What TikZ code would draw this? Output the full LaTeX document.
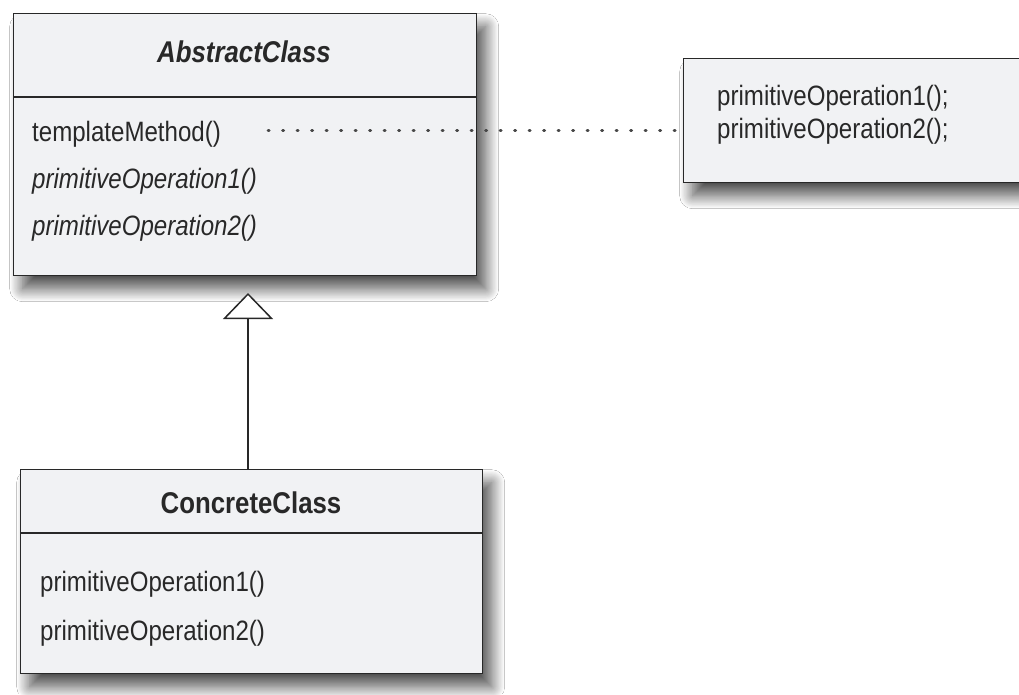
\documentclass[tikz,border=0pt]{standalone}
\usepackage{fontspec}
\setmainfont{Liberation Sans}[FakeStretch=0.86]
\usetikzlibrary{arrows.meta,shadows.blur}
\definecolor{boxfill}{RGB}{241,242,244}
\definecolor{ink}{RGB}{40,40,40}
\begin{document}
\begin{tikzpicture}[x=1pt,y=-1pt,
  classbox/.style={rectangle, draw=ink, line width=1.4pt, fill=boxfill, inner sep=0pt, anchor=north west,
    blur shadow={shadow xshift=9pt, shadow yshift=-13pt, shadow blur radius=13pt, shadow opacity=70, shadow blur steps=24, shadow blur extra rounding=0pt}},
  item/.style={anchor=base west, inner sep=0pt, text=ink, font=\fontsize{28}{30}\selectfont},
  ititem/.style={item, font=\fontsize{28}{30}\selectfont\itshape},
  classtitle/.style={anchor=base, inner sep=0pt, text=ink, font=\fontsize{30}{32}\selectfont\bfseries},
  divider/.style={draw=ink, line width=1.4pt},
  generalization/.style={draw=ink, line width=1.5pt, -{Triangle[open, fill=white, length=26pt, width=50pt]}},
  dotline/.style={draw=ink!85, line width=3pt, line cap=round, dash pattern=on 1.2pt off 13.3pt}
]
\clip (0,0) rectangle (1019,694);
\fill[white] (0,0) rectangle (1019,694);

% AbstractClass
\node[classbox, minimum width=463pt, minimum height=262pt] (abs) at (13,13) {};
\draw[divider] (abs.west |- 0,97) -- (abs.east |- 0,97);
\node[classtitle, font=\fontsize{30}{32}\selectfont\bfseries\itshape] (absname) at (244,62) {AbstractClass};
\node[item] (tm) at (32,141) {templateMethod()};
\node[ititem] (apo1) at (32,188) {primitiveOperation1()};
\node[ititem] (apo2) at (32,235) {primitiveOperation2()};

% Note
\node[classbox, minimum width=362pt, minimum height=124pt] (note) at (683,58) {};
\node[item] (n1) at (717,105) {primitiveOperation1();};
\node[item] (n2) at (717,138) {primitiveOperation2();};

% ConcreteClass
\node[classbox, minimum width=462pt, minimum height=204pt] (conc) at (20,469) {};
\draw[divider] (conc.west |- 0,533) -- (conc.east |- 0,533);
\node[classtitle] (concname) at (251,513) {ConcreteClass};
\node[item] (cpo1) at (40,591) {primitiveOperation1()};
\node[item] (cpo2) at (40,640) {primitiveOperation2()};

% connectors
\coordinate (dotstart) at (268,130);
\draw[dotline] (dotstart) -- (note.west |- dotstart);
\coordinate (apex) at (248,293);
\draw[generalization] (conc.north -| apex) -- (apex);
\end{tikzpicture}
\end{document}
